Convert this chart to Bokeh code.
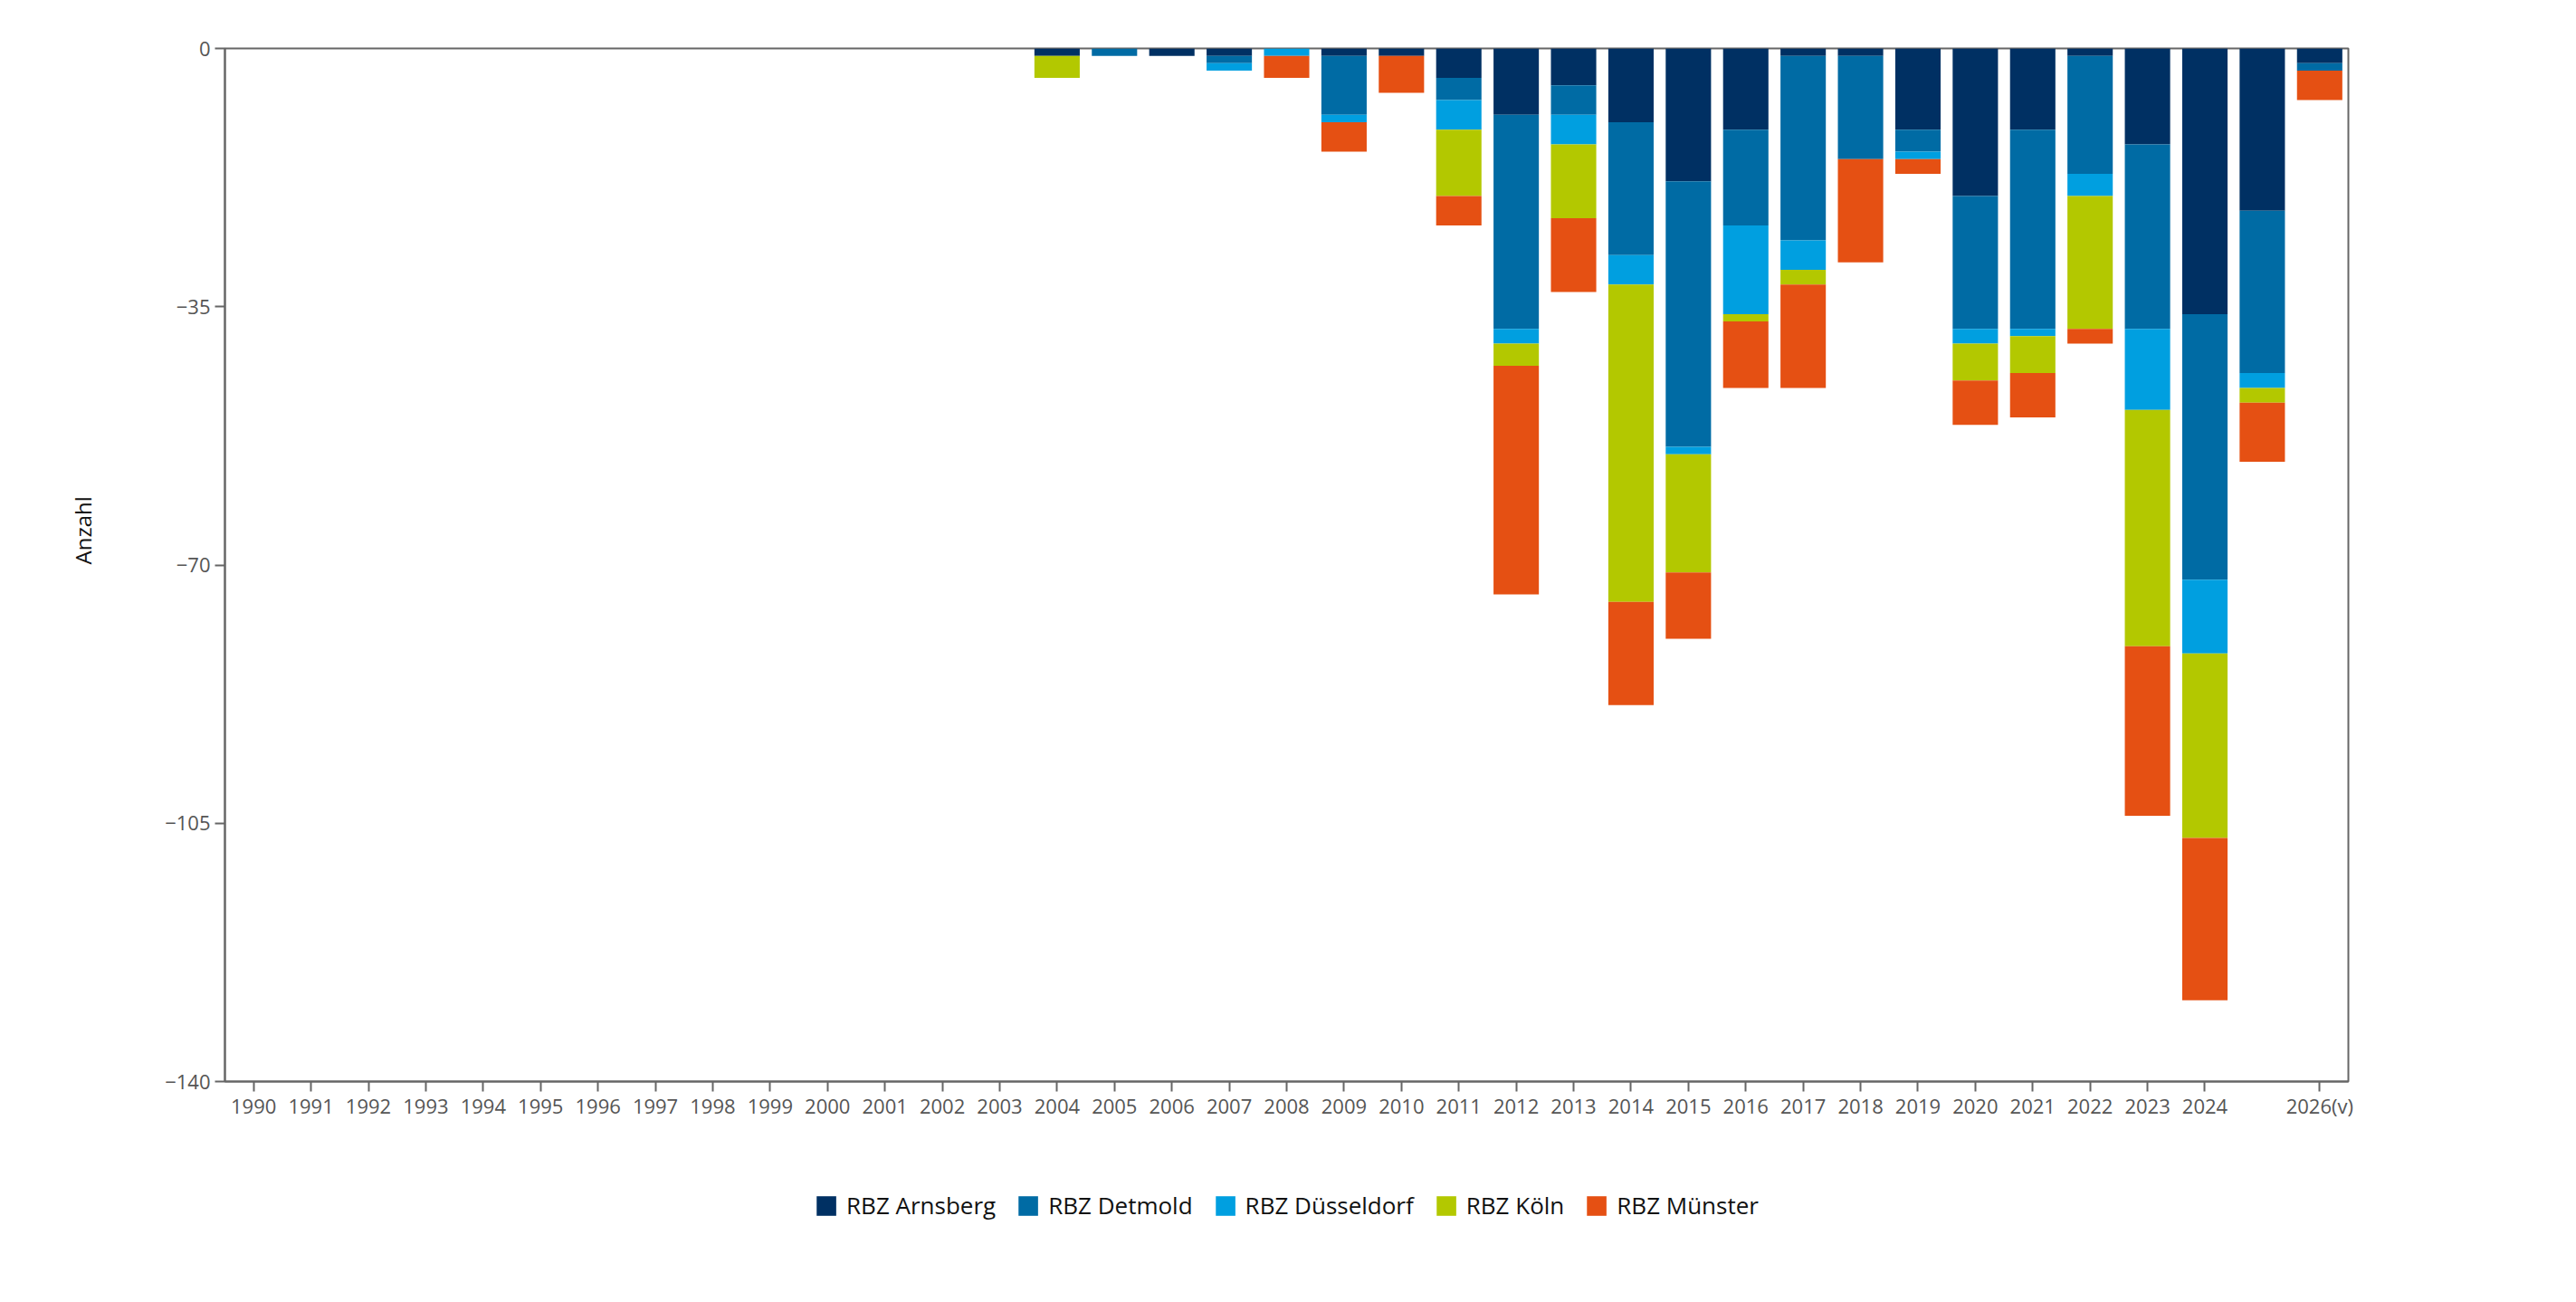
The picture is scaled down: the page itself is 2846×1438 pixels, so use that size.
from bokeh.plotting import figure
from bokeh.layouts import column
from bokeh.models import Range1d, FixedTicker, Legend, LegendItem, ColumnDataSource, Title
from bokeh.embed import file_html
from bokeh.resources import INLINE

# ---- data ----
labels = [str(y) for y in range(1990, 2025)] + ["", "2026(v)"]
regions = ["RBZ Arnsberg", "RBZ Detmold", "RBZ Düsseldorf", "RBZ Köln", "RBZ Münster"]
colors = ["#003063", "#006BA4", "#009FE0", "#B3C800", "#E55013"]

zeros14 = [0] * 14  # 1990-2003
#            2004 05 06 07 08 09 10  11  12  13  14   15   16   17  18   19   20   21  22   23   24   25 26(v)
arnsberg   = zeros14 + [-1, 0, -1, -1, 0, -1, -1, -4, -9, -5, -10, -18, -11, -1, -1, -11, -20, -11, -1, -13, -36, -22, -2]
detmold    = zeros14 + [0, -1, 0, -1, 0, -8, 0, -3, -29, -4, -18, -36, -13, -25, -14, -3, -18, -27, -16, -25, -36, -22, -1]
duesseldorf = zeros14 + [0, 0, 0, -1, -1, -1, 0, -4, -2, -4, -4, -1, -12, -4, 0, -1, -2, -1, -3, -11, -10, -2, 0]
koeln      = zeros14 + [-3, 0, 0, 0, 0, 0, 0, -9, -3, -10, -43, -16, -1, -2, 0, 0, -5, -5, -18, -32, -25, -2, 0]
muenster   = zeros14 + [0, 0, 0, 0, -3, -4, -5, -4, -31, -10, -14, -9, -9, -14, -14, -2, -6, -6, -2, -23, -22, -8, -4]

y_ticks = [0, -35, -70, -105, -140]
y_title = "Anzahl"

xpos = list(range(len(labels)))
data = dict(x=xpos)
series = [arnsberg, detmold, duesseldorf, koeln, muenster]
keys = ["s%d" % i for i in range(len(series))]
for k, s in zip(keys, series):
    data[k] = s
source = ColumnDataSource(data)

FONT = "Open Sans"
AXIS = "#666666"
LABEL = "#555555"

p = figure(
    frame_width=2346, frame_height=1141,
    x_range=Range1d(-0.5, len(labels) - 0.5),
    y_range=Range1d(-140, 0),
    output_backend="svg", toolbar_location=None,
    min_border_left=247, min_border_top=53, min_border_right=222, min_border_bottom=0,
    background_fill_color="white", border_fill_color="white",
)

p.vbar_stack(keys, x="x", width=0.79, color=colors, line_width=0, source=source)

p.xgrid.visible = False
p.ygrid.visible = False
p.outline_line_color = AXIS
p.outline_line_width = 2

# x axis
p.xaxis.ticker = FixedTicker(ticks=[i for i, l in enumerate(labels) if l])
p.xaxis.major_label_overrides = {i: l for i, l in enumerate(labels) if l}
# y axis
p.yaxis.ticker = FixedTicker(ticks=y_ticks)

for ax in (p.xaxis, p.yaxis):
    ax.axis_line_color = AXIS
    ax.axis_line_width = 2
    ax.major_tick_line_color = AXIS
    ax.major_tick_line_width = 2
    ax.major_tick_out = 11
    ax.major_tick_in = 0
    ax.minor_tick_line_color = None
    ax.major_label_text_font = FONT
    ax.major_label_text_font_size = "22px"
    ax.major_label_text_color = LABEL
    ax.major_label_standoff = 5
p.xaxis.major_label_standoff = 0

# y axis title, placed a little above the frame's middle as in the original
p.add_layout(Title(text=y_title, align="left", offset=571, standoff=144,
                   text_font=FONT, text_font_size="24px", text_font_style="normal",
                   text_color="#111111"), "left")

# ---- legend strip (a second figure below the chart) ----
lg = figure(
    frame_width=2346, frame_height=186,
    x_range=Range1d(-0.5, len(labels) - 0.5),
    y_range=Range1d(1000, 1001),  # keeps the stacked bars out of view; only legend shows
    output_backend="svg", toolbar_location=None,
    min_border_left=247, min_border_top=0, min_border_right=222, min_border_bottom=0,
    x_axis_location=None, y_axis_location=None,
    background_fill_color="white", border_fill_color="white",
)
lg.outline_line_color = None
lg.xgrid.visible = False
lg.ygrid.visible = False
lg_renderers = lg.vbar_stack(keys, x="x", width=0.79, color=colors, line_width=0, source=source)

legend = Legend(
    items=[LegendItem(label=r, renderers=[rr]) for r, rr in zip(regions, lg_renderers)],
    orientation="horizontal", location="center",
    glyph_width=27, glyph_height=27, label_standoff=9, spacing=22,
    padding=4, margin=0, border_line_color=None, background_fill_alpha=0,
    label_text_font=FONT, label_text_font_size="26px", label_text_color="#111111",
)
lg.add_layout(legend)

page = column(p, lg, spacing=0)

open("out.html", "w").write(file_html(page, INLINE))
